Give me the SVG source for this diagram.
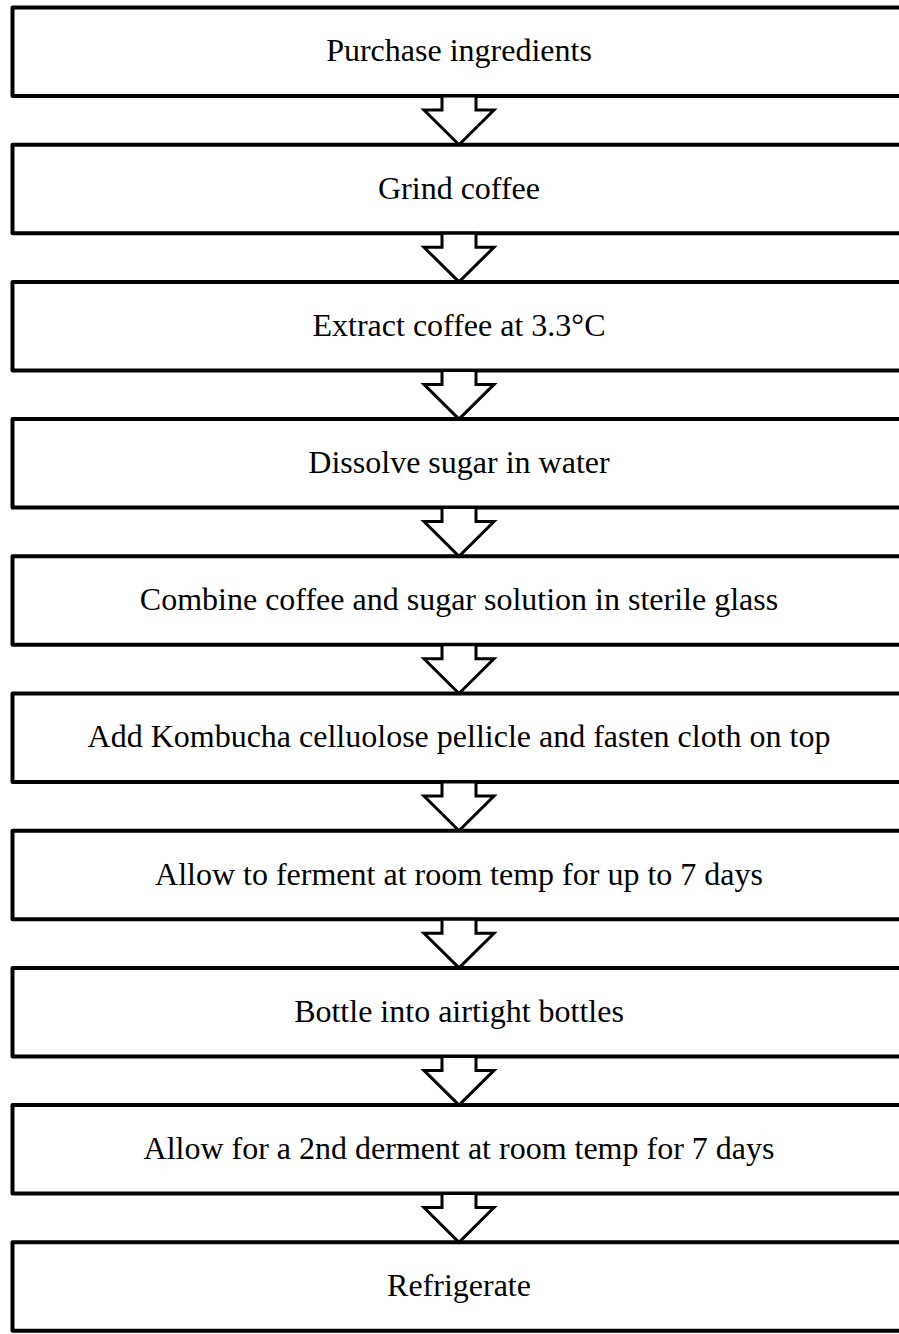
<svg xmlns="http://www.w3.org/2000/svg" width="899" height="1334" viewBox="0 0 899 1334">
<style>
.box{fill:#fff;stroke:#000;stroke-width:4;stroke-linejoin:round}
.arr{fill:#fff;stroke:#000;stroke-width:3;stroke-linejoin:miter}
.t{font-family:"Liberation Serif","Times New Roman",serif;font-size:32px;fill:#000;text-anchor:middle}
</style>
<rect width="899" height="1334" fill="#fff"/>
<g id="n1"><rect class="box" x="12.5" y="7.5" width="893" height="88.5"/><text class="t" x="459" y="61">Purchase ingredients</text></g>
<g id="n2"><rect class="box" x="12.5" y="144.7" width="893" height="88.5"/><text class="t" x="459" y="198.5">Grind coffee</text></g>
<g id="n3"><rect class="box" x="12.5" y="281.9" width="893" height="88.5"/><text class="t" x="459" y="335.7">Extract coffee at 3.3°C</text></g>
<g id="n4"><rect class="box" x="12.5" y="419.1" width="893" height="88.5"/><text class="t" x="459" y="472.9">Dissolve sugar in water</text></g>
<g id="n5"><rect class="box" x="12.5" y="556.3" width="893" height="88.5"/><text class="t" x="459" y="610.1">Combine coffee and sugar solution in sterile glass</text></g>
<g id="n6"><rect class="box" x="12.5" y="693.5" width="893" height="88.5"/><text class="t" x="459" y="747.3">Add Kombucha celluolose pellicle and fasten cloth on top</text></g>
<g id="n7"><rect class="box" x="12.5" y="830.7" width="893" height="88.5"/><text class="t" x="459" y="884.5">Allow to ferment at room temp for up to 7 days</text></g>
<g id="n8"><rect class="box" x="12.5" y="967.9" width="893" height="88.5"/><text class="t" x="459" y="1021.7">Bottle into airtight bottles</text></g>
<g id="n9"><rect class="box" x="12.5" y="1105.1" width="893" height="88.5"/><text class="t" x="459" y="1158.9">Allow for a 2nd derment at room temp for 7 days</text></g>
<g id="n10"><rect class="box" x="12.5" y="1242.3" width="893" height="88.5"/><text class="t" x="459" y="1296.1">Refrigerate</text></g>
<g id="connectors">
<polygon class="arr" points="442,96 476,96 476,110 494,110 459,144.7 424,110 442,110"/>
<polygon class="arr" points="442,233.2 476,233.2 476,247.2 494,247.2 459,281.9 424,247.2 442,247.2"/>
<polygon class="arr" points="442,370.4 476,370.4 476,384.4 494,384.4 459,419.1 424,384.4 442,384.4"/>
<polygon class="arr" points="442,507.6 476,507.6 476,521.6 494,521.6 459,556.3 424,521.6 442,521.6"/>
<polygon class="arr" points="442,644.8 476,644.8 476,658.8 494,658.8 459,693.5 424,658.8 442,658.8"/>
<polygon class="arr" points="442,782 476,782 476,796 494,796 459,830.7 424,796 442,796"/>
<polygon class="arr" points="442,919.2 476,919.2 476,933.2 494,933.2 459,967.9 424,933.2 442,933.2"/>
<polygon class="arr" points="442,1056.4 476,1056.4 476,1070.4 494,1070.4 459,1105.1 424,1070.4 442,1070.4"/>
<polygon class="arr" points="442,1193.6 476,1193.6 476,1207.6 494,1207.6 459,1242.3 424,1207.6 442,1207.6"/>
</g>
</svg>
